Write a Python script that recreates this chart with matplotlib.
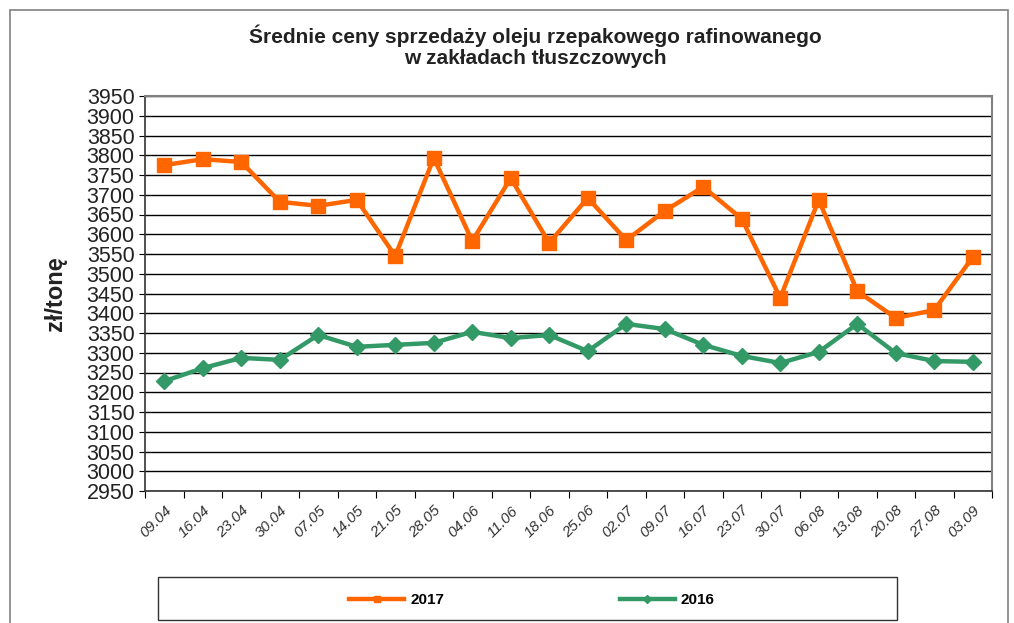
import matplotlib.pyplot as plt
from matplotlib.patches import Rectangle

# dates (weeks)
dates = ['09.04', '16.04', '23.04', '30.04', '07.05', '14.05', '21.05', '28.05',
         '04.06', '11.06', '18.06', '25.06', '02.07', '09.07', '16.07', '23.07',
         '30.07', '06.08', '13.08', '20.08', '27.08', '03.09']

ceny2017 = [3775, 3790, 3783, 3682, 3672, 3687, 3545, 3793, 3583, 3742, 3578,
            3692, 3585, 3659, 3720, 3639, 3439, 3687, 3456, 3388, 3408, 3542]
ceny2016 = [3228, 3261, 3287, 3282, 3345, 3315, 3320, 3325, 3353, 3337, 3345,
            3304, 3373, 3360, 3320, 3292, 3274, 3302, 3373, 3299, 3279, 3277]

plt.rcParams['font.family'] = ['Liberation Sans', 'DejaVu Sans']

fig = plt.figure(figsize=(10.14, 6.23), dpi=100)
ax = fig.add_axes([145/1014, 1 - 491/623, 847/1014, 395/623])

# outer chart frame
fig.patches.append(Rectangle((10/1014, -0.05), 998/1014, 1.05 - 10/623,
                             transform=fig.transFigure, fill=False,
                             edgecolor='#808080', linewidth=1.2))

x = list(range(len(dates)))
ax.plot(x, ceny2017, color='#FF6600', linewidth=3.2, marker='s', markersize=10,
        label='2017')
ax.plot(x, ceny2016, color='#339966', linewidth=3.2, marker='D', markersize=8.5,
        label='2016')

ax.set_xlim(-0.5, len(dates) - 0.5)
ax.set_ylim(2950, 3950)
ax.set_yticks(range(2950, 3951, 50))
ax.tick_params(axis='y', labelsize=15.5, length=4, direction='out',
               labelcolor='#222222')
ax.yaxis.grid(True, color='black', linewidth=1)
ax.set_axisbelow(True)

ax.set_xticks([i + 0.5 for i in range(-1, len(dates))], minor=False)
ax.set_xticklabels([])
ax.set_xticks(x, minor=True)
ax.set_xticklabels(dates, minor=True, rotation=45, ha='right', rotation_mode='anchor',
                   fontsize=11, color='#333333', style='italic')
ax.tick_params(axis='x', which='major', length=5, direction='out')
ax.tick_params(axis='x', which='minor', length=0, pad=9)

for s in ['top', 'right']:
    ax.spines[s].set_color('#808080')
    ax.spines[s].set_linewidth(1.5)
for s in ['left', 'bottom']:
    ax.spines[s].set_color('#333333')
    ax.spines[s].set_linewidth(1.2)

ax.set_ylabel('zł/tonę', fontsize=17, fontweight='bold', labelpad=14,
              color='#222222')

fig.text(535/1014, 1 - 46/623, 'Średnie ceny sprzedaży oleju rzepakowego rafinowanego\nw zakładach tłuszczowych',
         ha='center', va='center', fontsize=15, fontweight='bold', color='#222222',
         linespacing=1.1)

# legend box
fig.patches.append(Rectangle((158/1014, 1 - 620/623), 739/1014, 43/623,
                             transform=fig.transFigure, fill=False,
                             edgecolor='#333333', linewidth=1))
leg = fig.legend(loc='center', bbox_to_anchor=(532/1014, 1 - 600/623), ncol=2,
                 frameon=False, handlelength=3.6, markerscale=0.5,
                 columnspacing=11.5, handletextpad=0.4,
                 prop={'weight': 'bold', 'size': 11})

plt.savefig('out.png', dpi=100)
